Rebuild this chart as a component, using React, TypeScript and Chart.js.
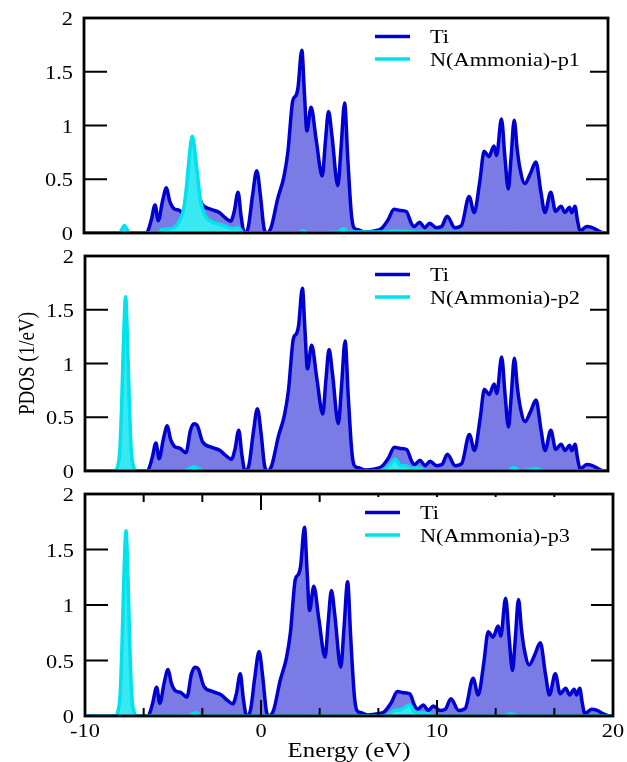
import React, { useEffect, useRef } from "react";
import { Chart, registerables } from "chart.js";

Chart.register(...registerables);

// ---------- data ----------
const tiEnergy = [
  -10, -6.5, -6.37, -6.15, -5.93, -5.75, -5.5, -5.28, -5.1, -4.88, -4.55, -4.21, -3.95, -3.75, -3.55,
  -3.25, -2.73, -2.25, -1.9, -1.6, -1.4, -1.18, -1.0, -0.82, -0.6, -0.35, -0.11, 0.1, 0.3, 0.45,
  0.71, 1.09, 1.44, 1.67, 1.95, 2.14, 2.25, 2.47, 2.62, 2.76, 3.0, 3.29, 3.64, 3.82, 4.0,
  4.2, 4.53, 4.72, 4.92, 5.1, 5.3, 5.45, 5.7, 6.06, 6.64, 7.02, 7.4, 7.75, 8.1, 8.45,
  8.74, 8.9, 9.22, 9.5, 9.79, 10.17, 10.47, 10.79, 11.23, 11.61, 12.05, 12.34, 12.66, 12.91, 13.18,
  13.47, 13.62, 13.9, 14.1, 14.29, 14.45, 14.63, 14.8, 14.96, 15.24, 15.55, 15.87, 16.16, 16.39, 16.72,
  17.0, 17.31, 17.54, 17.79, 17.93, 18.11, 18.25, 18.4, 18.78, 19.1, 19.45, 19.8, 20,
];
const tiPdos = [
  0, 0, 0.01, 0.12, 0.26, 0.115, 0.3, 0.42, 0.3, 0.23, 0.21, 0.17, 0.38, 0.44, 0.42,
  0.27, 0.22, 0.19, 0.14, 0.11, 0.2, 0.38, 0.15, 0.0, 0.05, 0.35, 0.58, 0.35, 0.05, 0.0,
  0.05, 0.32, 0.52, 0.75, 1.23, 1.28, 1.35, 1.7, 1.3, 0.95, 1.17, 0.87, 0.53, 0.85, 1.13,
  0.9, 0.44, 0.8, 1.21, 0.7, 0.19, 0.05, 0.03, 0.01, 0.02, 0.04, 0.12, 0.22, 0.21, 0.2,
  0.09, 0.06, 0.1, 0.05, 0.09, 0.05, 0.06, 0.155, 0.05, 0.07, 0.34, 0.19, 0.48, 0.76, 0.71,
  0.81, 0.72, 1.06, 0.7, 0.41, 0.7, 1.05, 0.78, 0.6, 0.46, 0.55, 0.66, 0.38, 0.19, 0.38,
  0.2, 0.25, 0.19, 0.24, 0.19, 0.25, 0.12, 0.02, 0.06, 0.05, 0.02, 0, 0,
];

const n1Energy = [
  -10, -7.95, -7.85, -7.69, -7.53, -7.4, -5.8, -5.55, -5.0, -4.7, -4.45, -4.31, -4.15, -4.03, -3.8,
  -3.55, -3.42, -3.32, -3.02, -2.6, -2.03, -1.46, -1.15, -0.88, 2.3, 2.55, 2.8, 4.5, 4.85, 5.1,
  7.0, 7.8, 9.0, 20,
];
const n1Pdos = [
  0, 0, 0.03, 0.07, 0.03, 0, 0, 0.03, 0.04, 0.07, 0.14, 0.21, 0.4, 0.61, 0.9,
  0.61, 0.42, 0.29, 0.15, 0.1, 0.07, 0.04, 0.05, 0, 0, 0.02, 0, 0.01, 0.04, 0.01,
  0.01, 0.02, 0.01, 0,
];

const n2Energy = [
  -10, -8.3, -8.15, -8.0, -7.9, -7.8, -7.67, -7.55, -7.45, -7.35, -7.2, -7.05, -4.3, -4.0, -3.75,
  -3.5, -3.2, 6.8, 7.2, 7.5, 7.8, 8.1, 8.4, 8.7, 9.0, 9.4, 9.8, 14.2, 14.6, 15.0, 15.9, 16.3, 20,
];
const n2Pdos = [
  0, 0, 0.03, 0.2, 0.6, 1.15, 1.62, 1.15, 0.6, 0.2, 0.03, 0, 0, 0.02, 0.04,
  0.02, 0, 0, 0.02, 0.06, 0.11, 0.05, 0.05, 0.02, 0.03, 0.01, 0, 0, 0.03, 0, 0.02, 0, 0,
];

const n3Energy = [
  -10, -8.3, -8.15, -8.0, -7.9, -7.8, -7.67, -7.55, -7.45, -7.35, -7.2, -7.05, -4.2, -3.9, -3.7,
  -3.4, 6.9, 7.3, 7.6, 8.0, 8.2, 8.45, 8.7, 9.0, 9.5, 10.0, 13.8, 14.2, 14.6, 20,
];
const n3Pdos = [
  0, 0, 0.03, 0.2, 0.62, 1.2, 1.67, 1.2, 0.62, 0.2, 0.03, 0, 0, 0.02, 0.03,
  0, 0, 0.02, 0.05, 0.06, 0.08, 0.1, 0.04, 0.03, 0.02, 0, 0, 0.02, 0, 0,
];

const tiLabel = "Ti";
const nLabels = ["N(Ammonia)-p1", "N(Ammonia)-p2", "N(Ammonia)-p3"];
const yTickValues = [0, 0.5, 1, 1.5, 2];
const yTickLabels = ["0", "0.5", "1", "1.5", "2"];
const xTickValues = [-10, 0, 10, 20];
const xTickLabels = ["-10", "0", "10", "20"];
const xMinorPerMajor = 3;
const xTitle = "Energy (eV)";
const yTitle = "PDOS (1/eV)";

// ---------- style ----------
const TI_LINE = "#0000d2";
const TI_FILL = "#7b7be6";
const N_LINE = "#00e2ee";
const N_FILL = "#3ae8f2";
const FONT = "'Liberation Serif', 'Times New Roman', serif";
const SX = 1.24;

type PanelProps = {
  nEnergy: number[];
  nPdos: number[];
  nLabel: string;
  canvasTop: number;
  canvasHeight: number;
  pad: { left: number; right: number; top: number; bottom: number };
  legendX: number;
  xAxis: boolean;
  yTitleOn: boolean;
};

function stretchedText(
  ctx: CanvasRenderingContext2D,
  text: string,
  x: number,
  y: number,
  align: CanvasTextAlign,
  size: number
) {
  ctx.save();
  ctx.translate(x, y);
  ctx.scale(SX, 1);
  ctx.font = `${size}px ${FONT}`;
  ctx.textAlign = align;
  ctx.textBaseline = "alphabetic";
  ctx.fillStyle = "#000";
  ctx.fillText(text, 0, 0);
  ctx.restore();
}

function Panel(p: PanelProps) {
  const ref = useRef<HTMLCanvasElement | null>(null);
  useEffect(() => {
    if (!ref.current) return;
    const decor = {
      id: "decor",
      afterDatasetsDraw(chart: any) {
        const ctx: CanvasRenderingContext2D = chart.ctx;
        const a = chart.chartArea;
        const xs = chart.scales.x;
        const ys = chart.scales.y;
        ctx.save();
        ctx.strokeStyle = "#000";
        ctx.lineWidth = 2;
        const seg = (x1: number, y1: number, x2: number, y2: number) => {
          ctx.beginPath();
          ctx.moveTo(x1, y1);
          ctx.lineTo(x2, y2);
          ctx.stroke();
        };
        yTickValues.forEach((v) => {
          const y = ys.getPixelForValue(v);
          seg(a.left, y, a.left + 23, y);
          seg(a.right, y, a.right - 22, y);
        });
        if (p.xAxis) {
          for (let i = 0; i < xTickValues.length - 1; i++) {
            const step = (xTickValues[i + 1] - xTickValues[i]) / xMinorPerMajor;
            for (let k = 0; k <= xMinorPerMajor; k++) {
              const v = xTickValues[i] + k * step;
              const len = k === 0 || k === xMinorPerMajor ? 16 : 8;
              const x = xs.getPixelForValue(v);
              seg(x, a.top, x, a.top + len);
              seg(x, a.bottom, x, a.bottom - len);
            }
          }
        }
        // legend
        ctx.font = `18px ${FONT}`;
        const tw = Math.max(ctx.measureText(tiLabel).width, ctx.measureText(p.nLabel).width) * SX;
        const lx = p.legendX;
        const textX = lx + 55;
        ctx.fillStyle = "#fff";
        ctx.fillRect(lx - 8, a.top + 3, textX + tw + 10 - (lx - 8), 56);
        const y1 = a.top + 18.5;
        const y2 = a.top + 41;
        ctx.lineWidth = 3.5;
        ctx.strokeStyle = TI_LINE;
        seg(lx, y1, lx + 35, y1);
        ctx.strokeStyle = N_LINE;
        seg(lx, y2, lx + 35, y2);
        stretchedText(ctx, tiLabel, textX, y1 + 6.5, "left", 18);
        stretchedText(ctx, p.nLabel, textX, y2 + 6.5, "left", 18);
        // frame
        ctx.strokeStyle = "#000";
        ctx.lineWidth = 2.8;
        ctx.strokeRect(a.left, a.top, a.right - a.left, a.bottom - a.top);
        // y tick labels
        yTickValues.forEach((v, i) => {
          const y = ys.getPixelForValue(v);
          stretchedText(ctx, yTickLabels[i], a.left - 11, y + 7, "right", 18);
        });
        if (p.xAxis) {
          xTickValues.forEach((v, i) => {
            const x = xs.getPixelForValue(v);
            stretchedText(ctx, xTickLabels[i], x, a.bottom + 21, "center", 18);
          });
          const cx = (a.left + a.right) / 2;
          stretchedText(ctx, xTitle, cx, a.bottom + 41, "center", 20);
        }
        if (p.yTitleOn) {
          const cy = (a.top + a.bottom) / 2;
          ctx.save();
          ctx.translate(34, cy);
          ctx.scale(SX, 1);
          ctx.rotate(-Math.PI / 2);
          ctx.font = `19px ${FONT}`;
          ctx.textAlign = "center";
          ctx.textBaseline = "alphabetic";
          ctx.fillStyle = "#000";
          ctx.fillText(yTitle, 0, 0);
          ctx.restore();
        }
        ctx.restore();
      },
    };

    const chart = new Chart(ref.current, {
      type: "line",
      data: {
        datasets: [
          {
            label: p.nLabel,
            data: p.nEnergy.map((e, i) => ({ x: e, y: p.nPdos[i] })),
            borderColor: N_LINE,
            backgroundColor: N_FILL,
            fill: "origin",
            borderWidth: 3.5,
            order: 0,
          },
          {
            label: tiLabel,
            data: tiEnergy.map((e, i) => ({ x: e, y: tiPdos[i] })),
            borderColor: TI_LINE,
            backgroundColor: TI_FILL,
            fill: "origin",
            borderWidth: 3.5,
            order: 1,
          },
        ],
      },
      options: {
        animation: false,
        responsive: false,
        maintainAspectRatio: false,
        layout: { padding: p.pad },
        plugins: { legend: { display: false }, tooltip: { enabled: false } },
        elements: {
          point: { radius: 0 },
          line: { cubicInterpolationMode: "monotone", borderJoinStyle: "round", borderCapStyle: "round" },
        },
        scales: {
          x: { type: "linear", min: -10, max: 20, display: false },
          y: { type: "linear", min: 0, max: 2, display: false },
        },
      },
      plugins: [decor],
    } as any);
    return () => chart.destroy();
  }, []);
  return (
    <canvas
      ref={ref}
      width={627}
      height={p.canvasHeight}
      style={{ position: "absolute", left: 0, top: p.canvasTop, width: 627, height: p.canvasHeight }}
    />
  );
}

export default function App() {
  return (
    <div style={{ position: "absolute", left: 0, top: 0, width: 627, height: 762, background: "#fff", overflow: "hidden" }}>
      <Panel
        nEnergy={n1Energy}
        nPdos={n1Pdos}
        nLabel={nLabels[0]}
        canvasTop={0}
        canvasHeight={250}
        pad={{ left: 84, right: 19, top: 18, bottom: 17 }}
        legendX={375}
        xAxis={false}
        yTitleOn={false}
      />
      <Panel
        nEnergy={n2Energy}
        nPdos={n2Pdos}
        nLabel={nLabels[1]}
        canvasTop={240}
        canvasHeight={250}
        pad={{ left: 85, right: 19, top: 16, bottom: 19 }}
        legendX={375}
        xAxis={false}
        yTitleOn={true}
      />
      <Panel
        nEnergy={n3Energy}
        nPdos={n3Pdos}
        nLabel={nLabels[2]}
        canvasTop={480}
        canvasHeight={282}
        pad={{ left: 85, right: 14, top: 14, bottom: 46 }}
        legendX={365}
        xAxis={true}
        yTitleOn={false}
      />
    </div>
  );
}
